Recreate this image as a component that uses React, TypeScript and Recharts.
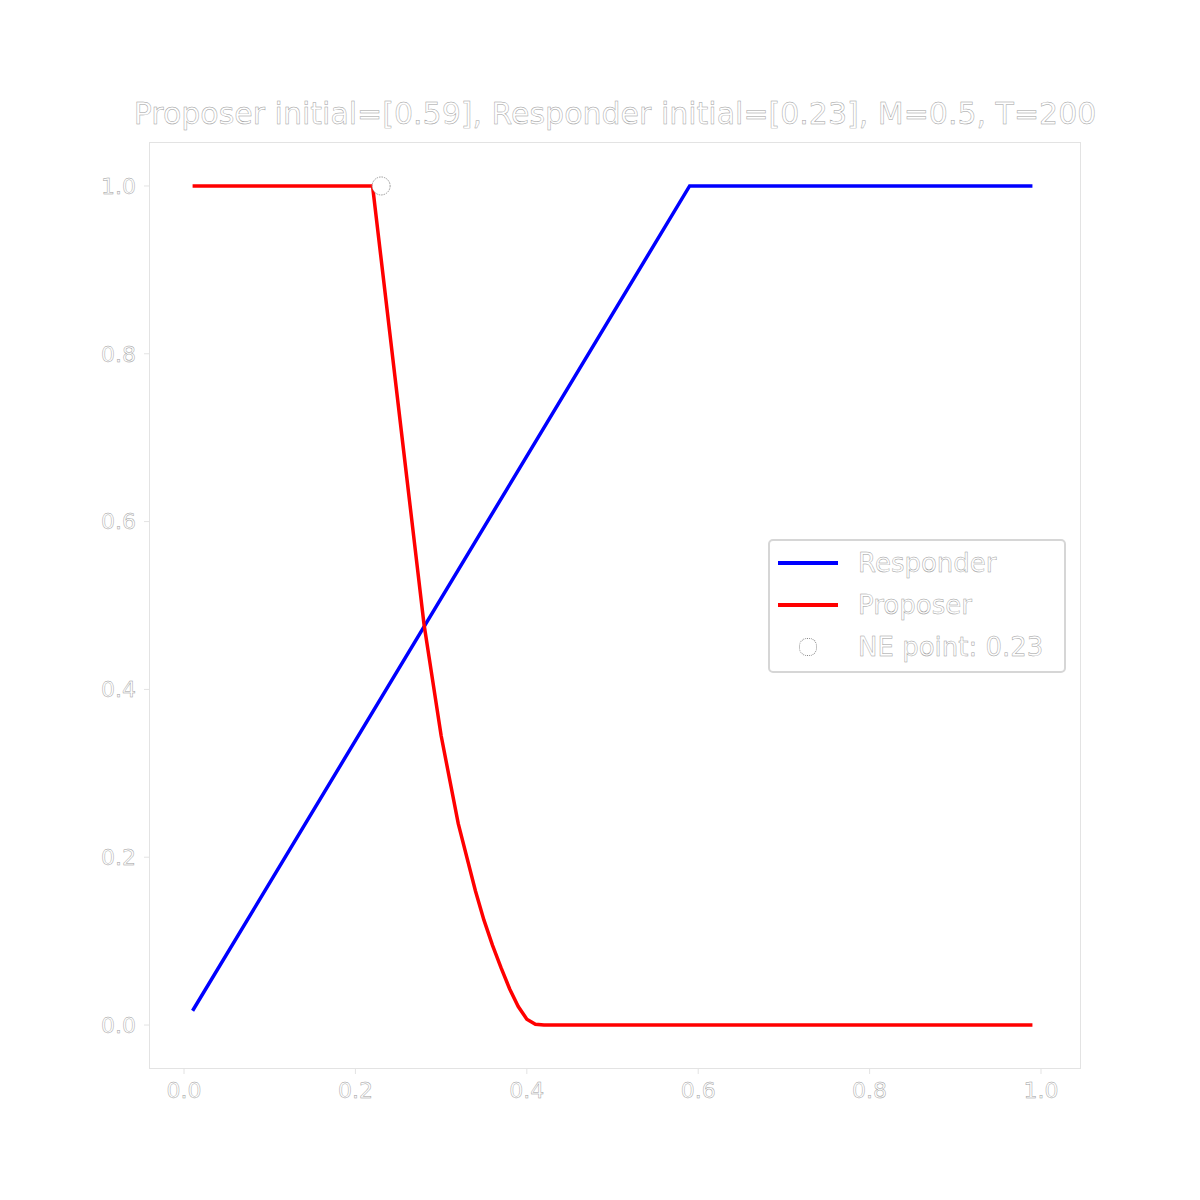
import React from "react";
import { ComposedChart, Line, Scatter, XAxis, YAxis } from "recharts";

const xTicks = [0, 0.2, 0.4, 0.6, 0.8, 1.0];
const yTicks = [0, 0.2, 0.4, 0.6, 0.8, 1.0];

const responderX = [0.01, 0.59, 0.99];
const responderY = [0.017, 1.0, 1.0];

const proposerX = [0.01, 0.22, 0.24, 0.26, 0.28, 0.3, 0.32, 0.34, 0.35, 0.36, 0.37, 0.38, 0.39, 0.4, 0.41, 0.42, 0.99];
const proposerY = [1.0, 1.0, 0.826, 0.652, 0.478, 0.345, 0.24, 0.16, 0.125, 0.095, 0.068, 0.043, 0.022, 0.007, 0.001, 0, 0];

const neX = [0.23];
const neY = [1.0];

const responder = responderX.map((x, i) => ({ x, y: responderY[i] }));
const proposer = proposerX.map((x, i) => ({ x, y: proposerY[i] }));
const ne = neX.map((x, i) => ({ x, y: neY[i] }));

const tick = { fill: "#ffffff", stroke: "#9a9a9a", strokeWidth: 0.45, fontSize: 22, fontFamily: "DejaVu Sans" };

const htmlText: React.CSSProperties = {
  color: "#ffffff",
  WebkitTextStroke: "0.45px #9a9a9a",
  fontFamily: "DejaVu Sans",
};

export default function App() {
  return (
    <div style={{ position: "relative", width: 1200, height: 1200, margin: -8, background: "#fff" }}>
      <div style={{ ...htmlText, position: "absolute", top: 96, left: 0, width: 1230, textAlign: "center", fontSize: 30, whiteSpace: "nowrap" }}>
        Proposer initial=[0.59], Responder initial=[0.23], M=0.5, T=200
      </div>
      <div style={{ position: "absolute", left: 149, top: 142, width: 930, height: 925, border: "1.5px solid #e3e3e3" }} />
      <ComposedChart
        width={1200}
        height={1200}
        margin={{ top: 143, right: 120, bottom: 0, left: 0 }}
        style={{ position: "absolute", top: 0, left: 0 }}
      >
        <XAxis
          type="number"
          dataKey="x"
          domain={[-0.0397, 1.0455]}
          ticks={xTicks}
          tickFormatter={(v: number) => v.toFixed(1)}
          tick={tick}
          axisLine={false}
          tickLine={{ stroke: "#e3e3e3" }}
          tickSize={6}
          tickMargin={8}
          height={132}
          allowDataOverflow
        />
        <YAxis
          type="number"
          dataKey="y"
          domain={[-0.0512, 1.0512]}
          ticks={yTicks}
          tickFormatter={(v: number) => v.toFixed(1)}
          tick={tick}
          axisLine={false}
          tickLine={{ stroke: "#e3e3e3" }}
          tickSize={6}
          tickMargin={8}
          width={150}
          allowDataOverflow
        />
        <Line data={responder} dataKey="y" stroke="#0000ff" strokeWidth={3.5} dot={false} isAnimationActive={false} type="linear" />
        <Line data={proposer} dataKey="y" stroke="#ff0000" strokeWidth={3.5} dot={false} isAnimationActive={false} type="linear" />
        <Scatter data={ne} dataKey="y" isAnimationActive={false}
          shape={(p: any) => <circle cx={p.cx} cy={p.cy} r={9} fill="#fff" stroke="#999" strokeDasharray="1.5 1" />} />
      </ComposedChart>
      <div
        style={{
          position: "absolute", left: 768, top: 539, width: 294, height: 130,
          border: "2px solid #d6d6d6", borderRadius: 5, background: "#fff",
        }}
      >
        {[
          { label: "Responder", color: "#0000ff" },
          { label: "Proposer", color: "#ff0000" },
          { label: "NE point: 0.23", color: "" },
        ].map((it, i) => (
          <div key={i} style={{ position: "absolute", top: 4 + i * 42, left: 8, height: 36, display: "flex", alignItems: "center" }}>
            <div style={{ width: 60, display: "flex", justifyContent: "center" }}>
              {it.color ? (
                <div style={{ width: 60, height: 4, background: it.color }} />
              ) : (
                <div style={{ width: 16, height: 16, borderRadius: 8, border: "1px dotted #888" }} />
              )}
            </div>
            <span style={{ ...htmlText, fontSize: 26, marginLeft: 20 }}>{it.label}</span>
          </div>
        ))}
      </div>
    </div>
  );
}
